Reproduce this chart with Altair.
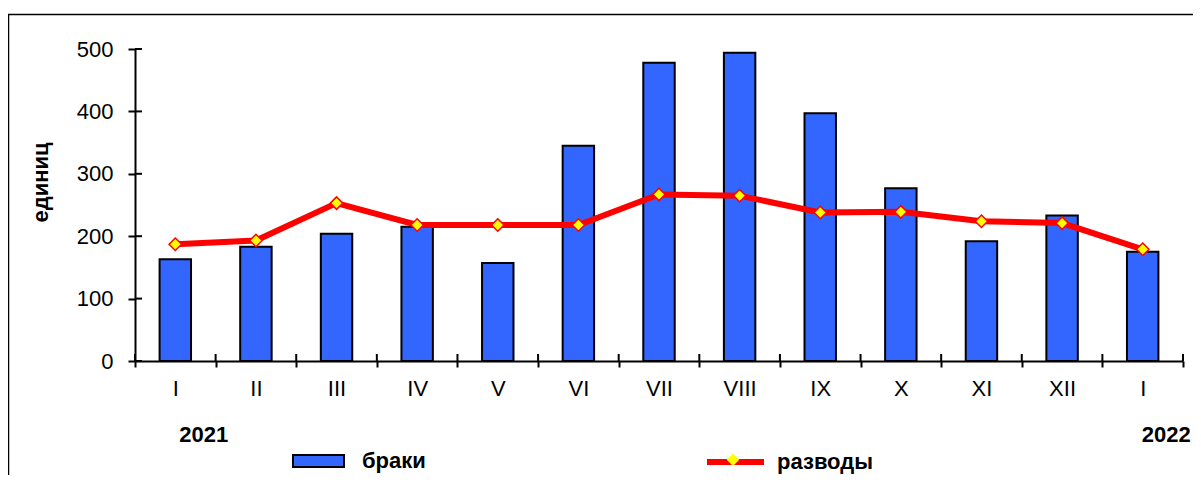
import altair as alt
import pandas as pd

# ---- data ----
months = ["I", "II", "III", "IV", "V", "VI", "VII", "VIII", "IX", "X", "XI", "XII", "I"]
years = ["2021"] * 12 + ["2022"]
braki = [163, 183, 204, 215, 157, 345, 478, 494, 397, 277, 192, 233, 175]
razvody = [187, 193, 253, 218, 218, 218, 267, 265, 238, 239, 224, 221, 179]
y_ticks = [0, 100, 200, 300, 400, 500]
year_labels = ["2021", "2022"]
year_first_month = ["I|2021", "I|2022"]

keys = [f"{m}|{y}" for m, y in zip(months, years)]
df = pd.DataFrame({"key": keys, "brak": braki, "razv": razvody,
                   "s1": "браки", "s2": "разводы", "s3": "маркер"})

W, H = 1048, 312
FONT = "Liberation Sans"

x_scale = alt.Scale(domain=keys, paddingInner=0, paddingOuter=0)
x_axis = alt.Axis(title=None, labelExpr="split(datum.label, '|')[0]",
                  tickBand="extent", tickSize=6, tickWidth=2, tickColor="black",
                  domainWidth=2, domainColor="black", labelFontSize=22,
                  labelFont=FONT, labelColor="black", labelPadding=11,
                  labelAngle=0, grid=False)
y_scale = alt.Scale(domain=[0, 500], nice=False)
y_axis = alt.Axis(title="единиц", values=y_ticks, tickSize=7, tickWidth=2,
                  tickColor="black", domainWidth=2, domainColor="black",
                  labelFontSize=22, labelFont=FONT, labelColor="black",
                  labelPadding=15, titleFont=FONT, titleFontSize=22,
                  titleFontWeight="bold", titleColor="black", titleAngle=270,
                  titleX=-83, titleY=133, titleAlign="center",
                  titleBaseline="bottom", grid=False)


def xenc(**kw):
    return alt.X("key:N", scale=x_scale, axis=x_axis, **kw)


frame = alt.Chart(pd.DataFrame({"a": [0]})).mark_rect(
    fillOpacity=0, stroke="black", strokeWidth=1.5
).encode(x=alt.value(-126.5), x2=alt.value(W + 300),
         y=alt.value(-34.5), y2=alt.value(H + 300))

bars = alt.Chart(df).mark_bar(
    width=alt.RelativeBandSize(0.39), stroke="black", strokeWidth=2
).encode(
    x=xenc(),
    y=alt.Y("brak:Q", scale=y_scale, axis=y_axis),
    fill=alt.Fill("s1:N", scale=alt.Scale(domain=["браки"], range=["#3366FF"]),
                  legend=alt.Legend(title=None, orient="none", legendX=157,
                                    legendY=385.5, padding=0,
                                    symbolType="M-1,-0.235H1V0.235H-1Z",
                                    symbolSize=2601, symbolStrokeColor="black",
                                    symbolStrokeWidth=2, labelFont=FONT,
                                    labelFontSize=22, labelFontWeight="bold",
                                    labelColor="black", labelOffset=17)),
)

line = alt.Chart(df).mark_line(strokeWidth=6).encode(
    x=xenc(),
    y=alt.Y("razv:Q", scale=y_scale, axis=y_axis),
    stroke=alt.Stroke("s2:N", scale=alt.Scale(domain=["разводы"], range=["#FF0000"]),
                      legend=alt.Legend(title=None, orient="none", legendX=569,
                                        legendY=381.5, padding=0,
                                        symbolType="stroke", symbolSize=3249,
                                        symbolStrokeWidth=6, labelFont=FONT,
                                        labelFontSize=22, labelFontWeight="bold",
                                        labelColor="black", labelOffset=10)),
)

points = alt.Chart(df).mark_point(
    filled=True, fill="#FFFF00", stroke="#FF0000", strokeWidth=1.5,
    size=156, opacity=1
).encode(
    x=xenc(),
    y=alt.Y("razv:Q", scale=y_scale, axis=y_axis),
    shape=alt.Shape("s3:N", scale=alt.Scale(domain=["маркер"], range=["diamond"]),
                    legend=alt.Legend(title=None, orient="none", legendX=591,
                                      legendY=403.75, padding=0,
                                      symbolSize=156, symbolFillColor="#FFFF00",
                                      symbolStrokeColor="#FF0000",
                                      symbolStrokeWidth=1.5, labelExpr="''",
                                      labelFontSize=1)),
)

ytick_in = alt.Chart(pd.DataFrame({"v": y_ticks})).mark_rule(
    color="black", strokeWidth=2
).encode(y=alt.Y("v:Q", scale=y_scale, axis=y_axis),
         x=alt.value(0), x2=alt.value(7))

xtick_in = alt.Chart(df).mark_rule(color="black", strokeWidth=2).encode(
    x=xenc(bandPosition=0), y=alt.value(H - 7), y2=alt.value(H))

xtick_last = alt.Chart(df.tail(1)).mark_rule(color="black", strokeWidth=2).encode(
    x=xenc(bandPosition=1), y=alt.value(H - 7), y2=alt.value(H))

year_df = pd.DataFrame({"key": year_first_month, "t": year_labels})
year_style = dict(fontSize=22, fontWeight="bold", font=FONT, baseline="middle",
                  color="black")
year_first = alt.Chart(year_df).transform_filter(
    alt.datum.t == year_labels[0]
).mark_text(dx=28.5, align="center", **year_style).encode(
    x=xenc(), y=alt.value(386), text="t:N")
year_last = alt.Chart(year_df).transform_filter(
    alt.datum.t == year_labels[1]
).mark_text(dx=48, align="right", **year_style).encode(
    x=xenc(), y=alt.value(386), text="t:N")

chart = alt.layer(
    frame, bars, line, points, ytick_in, xtick_in, xtick_last, year_first, year_last
).properties(
    width=W, height=H,
    padding={"left": 127, "top": 41, "right": 10, "bottom": 114},
    autosize=alt.AutoSizeParams(type="none"),
).configure(font=FONT).configure_view(strokeWidth=0)

chart.save("out.html", embed_options={"renderer": "svg", "actions": False})
